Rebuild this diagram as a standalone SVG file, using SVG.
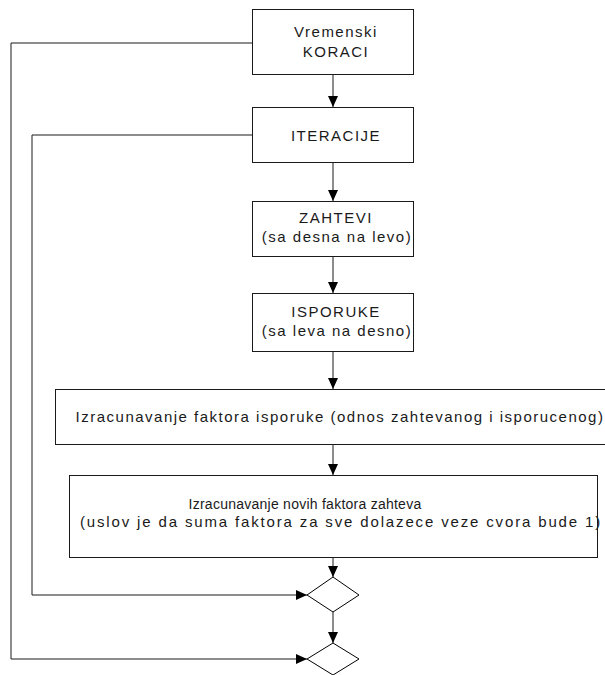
<svg xmlns="http://www.w3.org/2000/svg" width="605" height="675" viewBox="0 0 605 675">
  <style>
    .box { fill: #ffffff; stroke: #1a1a1a; stroke-width: 1; }
    .dec { fill: #ffffff; stroke: #000000; stroke-width: 1; }
    .lbl { font-family: "Liberation Sans", Arial, sans-serif; font-size: 15px; letter-spacing: 1.5px; fill: #1a1a1a; text-anchor: middle; }
    .wire { fill: none; stroke: #1a1a1a; stroke-width: 1; }
  </style>
  <defs>
    <marker id="arrow" markerUnits="userSpaceOnUse" markerWidth="11" markerHeight="10" refX="11" refY="5" orient="auto">
      <path d="M0,0 L11,5 L0,10 Z" fill="#000000"/>
    </marker>
  </defs>
  <rect width="605" height="675" fill="#ffffff"/>

  <g id="connectors">
    <line class="wire" x1="333" y1="74" x2="333" y2="107" marker-end="url(#arrow)"/>
    <line class="wire" x1="333" y1="162" x2="333" y2="201" marker-end="url(#arrow)"/>
    <line class="wire" x1="333" y1="256" x2="333" y2="293" marker-end="url(#arrow)"/>
    <line class="wire" x1="333" y1="351" x2="333" y2="389" marker-end="url(#arrow)"/>
    <line class="wire" x1="333" y1="444" x2="333" y2="475" marker-end="url(#arrow)"/>
    <line class="wire" x1="333" y1="557" x2="333" y2="577" marker-end="url(#arrow)"/>
    <line class="wire" x1="333" y1="612" x2="333" y2="643" marker-end="url(#arrow)"/>
    <!-- loop back from the time-step box -->
    <polyline class="wire" points="252,43 11,43 11,659 307,659" marker-end="url(#arrow)"/>
    <!-- loop back from the iteration box -->
    <polyline class="wire" points="252,135 32,135 32,595 307,595" marker-end="url(#arrow)"/>
  </g>

  <g id="koraci">
    <rect class="box" x="252.5" y="9.5" width="161" height="65"/>
    <text class="lbl" x="336" y="37">Vremenski</text>
    <text class="lbl" x="336" y="57">KORACI</text>
  </g>

  <g id="iteracije">
    <rect class="box" x="252.5" y="107.5" width="161" height="55"/>
    <text class="lbl" x="336" y="141">ITERACIJE</text>
  </g>

  <g id="zahtevi">
    <rect class="box" x="252.5" y="201.5" width="161" height="55"/>
    <text class="lbl" x="336" y="223">ZAHTEVI</text>
    <text class="lbl" x="337" y="242">(sa desna na levo)</text>
  </g>

  <g id="isporuke">
    <rect class="box" x="252.5" y="293.5" width="161" height="58"/>
    <text class="lbl" x="336" y="317">ISPORUKE</text>
    <text class="lbl" x="337" y="336">(sa leva na desno)</text>
  </g>

  <g id="faktor-isporuke">
    <rect class="box" x="55.5" y="389.5" width="570" height="55"/>
    <text class="lbl" x="340" y="422">Izracunavanje faktora isporuke (odnos zahtevanog i isporucenog)</text>
  </g>

  <g id="faktor-zahteva">
    <rect class="box" x="69.5" y="475.5" width="528" height="82"/>
    <text class="lbl" x="305" y="509" style="font-size:14px;letter-spacing:0.25px">Izracunavanje novih faktora zahteva</text>
    <text class="lbl" x="341" y="527" style="letter-spacing:1.85px">(uslov je da suma faktora za sve dolazece veze cvora bude 1)</text>
  </g>

  <g id="kraj-iteracije">
    <polygon class="dec" points="333,577 359,595 333,612 307,595"/>
  </g>

  <g id="kraj-koraka">
    <polygon class="dec" points="333,643 359,659 333,675 307,659"/>
  </g>
</svg>
